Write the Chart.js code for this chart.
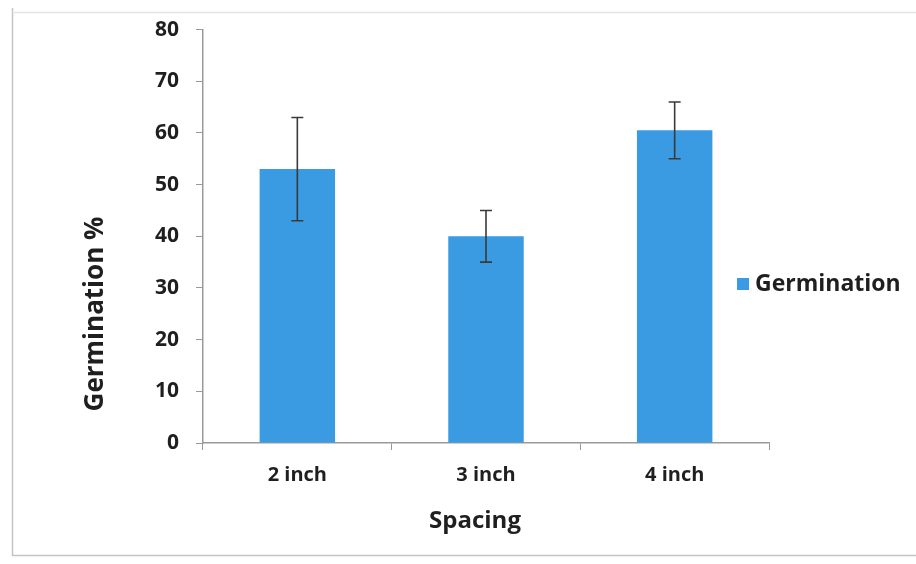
<!DOCTYPE html>
<html>
<head>
<meta charset="utf-8">
<script src="https://cdn.jsdelivr.net/npm/chart.js@4.4.0/dist/chart.umd.min.js"></script>
<style>
html,body{margin:0;padding:0;background:#fff;}
#wrap{width:916px;height:564px;position:relative;}
</style>
</head>
<body>
<div id="wrap"><canvas id="c" width="916" height="564"></canvas></div>
<script>
const categories = ['2 inch', '3 inch', '4 inch'];
const germination = [53, 40, 60.5];
const errors = [10, 5, 5.5];
const yTicks = [0, 10, 20, 30, 40, 50, 60, 70, 80];
const seriesName = 'Germination';
const xTitle = 'Spacing';
const yTitle = 'Germination %';

const FONT = "'Open Sans', 'DejaVu Sans', sans-serif";
const TEXT = '#1f1f1f';
const BAR = '#3a9ae2';

const framePlugin = {
  id: 'frame',
  beforeDraw(chart) {
    const ctx = chart.ctx;
    ctx.save();
    ctx.fillStyle = '#fff';
    ctx.fillRect(0, 0, chart.width, chart.height);
    ctx.strokeStyle = '#c4c4c4';
    ctx.lineWidth = 1.5;
    ctx.beginPath();
    ctx.moveTo(12.5, 8);
    ctx.lineTo(12.5, 555.5);
    ctx.lineTo(chart.width, 555.5);
    ctx.stroke();
    ctx.strokeStyle = '#e4e4e4';
    ctx.beginPath();
    ctx.moveTo(12.5, 12.5);
    ctx.lineTo(chart.width, 12.5);
    ctx.stroke();
    ctx.restore();
  }
};

const errorBarPlugin = {
  id: 'errorBars',
  afterDatasetsDraw(chart) {
    const ctx = chart.ctx;
    const y = chart.scales.y;
    const meta = chart.getDatasetMeta(0);
    ctx.save();
    ctx.strokeStyle = '#3a3a3a';
    ctx.lineWidth = 1.6;
    meta.data.forEach((bar, i) => {
      const v = germination[i], e = errors[i];
      const x = bar.x;
      const top = y.getPixelForValue(v + e);
      const bot = y.getPixelForValue(v - e);
      ctx.beginPath();
      ctx.moveTo(x, top); ctx.lineTo(x, bot);
      ctx.moveTo(x - 6, top); ctx.lineTo(x + 6, top);
      ctx.moveTo(x - 6, bot); ctx.lineTo(x + 6, bot);
      ctx.stroke();
    });
    ctx.restore();
  }
};

const labelPlugin = {
  id: 'labels',
  afterDraw(chart) {
    const ctx = chart.ctx;
    ctx.save();
    ctx.fillStyle = TEXT;
    ctx.font = 'bold 26px ' + FONT;
    ctx.textAlign = 'center';
    ctx.textBaseline = 'middle';
    ctx.translate(96, 314);
    ctx.rotate(-Math.PI / 2);
    ctx.fillText(yTitle, 0, 0);
    ctx.restore();
    ctx.save();
    ctx.fillStyle = TEXT;
    ctx.font = 'bold 24px ' + FONT;
    ctx.textAlign = 'center';
    ctx.textBaseline = 'middle';
    ctx.fillText(xTitle, 475, 521);
    ctx.fillStyle = BAR;
    ctx.fillRect(737, 278, 12, 12);
    ctx.fillStyle = TEXT;
    ctx.textAlign = 'left';
    ctx.font = 'bold 23px ' + FONT;
    ctx.fillText(seriesName, 755, 284);
    ctx.restore();
  }
};

new Chart(document.getElementById('c'), {
  type: 'bar',
  data: {
    labels: categories,
    datasets: [{
      label: seriesName,
      data: germination,
      backgroundColor: BAR,
      borderWidth: 0,
      categoryPercentage: 1,
      barPercentage: 0.4
    }]
  },
  options: {
    responsive: false,
    animation: false,
    devicePixelRatio: 1,
    layout: { padding: { left: 0, right: 147, top: 27, bottom: 0 } },
    plugins: { legend: { display: false }, tooltip: { enabled: false } },
    scales: {
      x: {
        grid: { display: true, drawOnChartArea: false, offset: true, color: '#999', tickLength: 7, tickColor: '#999' },
        border: { display: true, color: '#999', width: 1.5 },
        ticks: { color: TEXT, font: { family: FONT, size: 20, weight: 'bold' }, padding: 13 },
        afterFit(s) { s.height = 121; }
      },
      y: {
        min: 0, max: 80,
        afterBuildTicks(s) { s.ticks = yTicks.map(v => ({ value: v })); },
        grid: { display: true, drawOnChartArea: false, color: '#999', tickLength: 7, tickColor: '#999' },
        border: { display: true, color: '#999', width: 1.5 },
        ticks: { color: TEXT, font: { family: FONT, size: 21, weight: 'bold' }, padding: 17 },
        afterFit(s) { s.width = 203; }
      }
    }
  },
  plugins: [framePlugin, errorBarPlugin, labelPlugin]
});
</script>
</body>
</html>
